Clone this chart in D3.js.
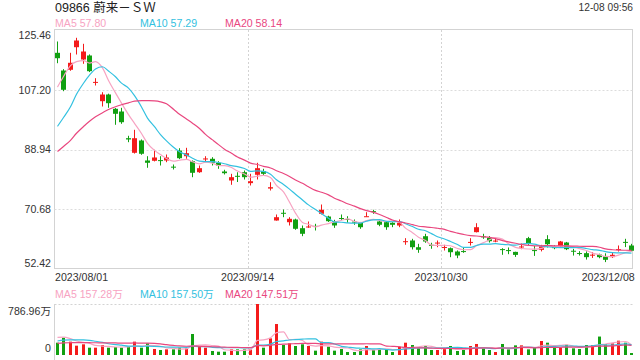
<!DOCTYPE html>
<html><head><meta charset="utf-8">
<script src="https://cdn.jsdelivr.net/npm/d3@7"></script>
<style>
body{margin:0;background:#fff}
svg{display:block}
text{font-family:"Liberation Sans",Arial,"Noto Sans CJK SC",sans-serif}
</style>
</head><body>
<svg id="c" width="640" height="360"></svg>
<script>
const title = "09866 蔚来－ＳＷ";
const stamp = "12-08 09:56";
const dates = [
"2023/08/01","2023/08/02","2023/08/03","2023/08/04","2023/08/07","2023/08/08","2023/08/09","2023/08/10","2023/08/11","2023/08/14",
"2023/08/15","2023/08/16","2023/08/17","2023/08/18","2023/08/21","2023/08/22","2023/08/23","2023/08/24","2023/08/25","2023/08/28",
"2023/08/29","2023/08/30","2023/08/31","2023/09/04","2023/09/05","2023/09/06","2023/09/07","2023/09/11","2023/09/12","2023/09/13",
"2023/09/14","2023/09/15","2023/09/18","2023/09/19","2023/09/20","2023/09/21","2023/09/22","2023/09/25","2023/09/26","2023/09/27",
"2023/09/28","2023/09/29","2023/10/03","2023/10/04","2023/10/05","2023/10/06","2023/10/09","2023/10/10","2023/10/11","2023/10/12",
"2023/10/13","2023/10/16","2023/10/17","2023/10/18","2023/10/19","2023/10/20","2023/10/24","2023/10/25","2023/10/26","2023/10/27",
"2023/10/30","2023/10/31","2023/11/01","2023/11/02","2023/11/03","2023/11/06","2023/11/07","2023/11/08","2023/11/09","2023/11/10",
"2023/11/13","2023/11/14","2023/11/15","2023/11/16","2023/11/17","2023/11/20","2023/11/21","2023/11/22","2023/11/23","2023/11/24",
"2023/11/27","2023/11/28","2023/11/29","2023/11/30","2023/12/01","2023/12/04","2023/12/05","2023/12/06","2023/12/07","2023/12/08"];

const open = [118.49,113.08,113.30,120.20,116.44,117.67,109.35,103.70,105.75,101.38,
100.55,92.40,87.93,91.69,85.58,85.49,85.70,85.58,83.70,88.63,
86.89,85.36,82.00,86.00,86.10,84.88,82.22,79.47,80.90,82.00,
78.66,81.21,82.31,77.00,67.24,69.60,66.72,67.55,64.89,65.20,
65.60,69.29,68.46,67.03,68.00,67.70,66.90,66.54,68.40,70.10,
66.95,66.72,66.54,65.71,60.70,61.13,59.08,62.44,59.80,60.30,
58.90,58.78,57.77,57.90,60.50,63.68,62.40,61.96,60.90,58.50,
58.20,57.65,59.10,61.84,58.20,58.27,61.53,59.10,59.30,60.52,
58.00,57.30,57.26,56.60,56.83,56.24,56.05,58.31,60.71,59.60];
const high = [121.95,113.50,118.49,123.08,121.24,118.00,110.73,106.45,106.00,101.60,
101.68,93.13,94.96,92.00,86.89,88.85,86.89,87.41,84.36,89.34,
89.46,85.60,84.05,86.89,86.59,85.36,82.74,81.51,81.98,82.52,
81.51,84.88,83.04,78.95,69.08,70.60,68.25,67.80,65.71,66.94,
66.23,72.13,68.70,67.46,69.08,68.55,67.55,66.80,69.78,70.51,
67.30,66.90,66.70,67.55,61.84,61.65,60.12,63.18,60.43,61.13,
59.82,59.00,58.10,59.08,61.84,66.42,63.18,62.50,62.14,58.78,
59.00,57.70,60.20,62.24,59.48,59.80,62.75,59.70,61.00,60.70,
58.57,57.87,57.80,57.56,57.10,57.21,57.61,59.61,61.65,60.11];
const low = [115.31,106.76,113.00,117.97,115.13,112.60,108.50,102.08,101.68,96.49,
96.79,91.17,87.70,87.32,83.35,85.30,84.05,85.06,82.83,86.00,
86.10,80.47,81.80,85.06,84.05,83.04,81.30,78.15,79.00,79.77,
77.94,79.77,81.00,76.41,67.20,68.25,65.71,64.40,62.45,65.00,
64.19,69.08,66.80,65.00,67.34,66.54,65.93,64.70,68.40,69.29,
65.50,64.40,65.20,65.20,59.82,58.38,57.37,60.43,58.60,59.08,
58.07,56.03,55.72,57.37,59.60,63.60,61.65,60.50,60.60,56.76,
56.95,56.12,58.47,59.80,56.43,57.80,59.00,58.47,59.00,58.20,
56.53,56.53,55.30,55.80,55.70,54.53,55.81,57.76,59.11,57.81];
const close = [116.84,107.19,115.44,122.25,118.89,112.87,109.60,105.75,103.09,99.85,
97.28,92.00,92.39,87.63,84.88,86.50,85.50,86.50,83.50,86.28,
87.81,81.82,83.23,86.20,84.88,84.05,81.70,80.48,80.60,80.48,
79.25,83.23,81.51,77.42,68.25,69.40,67.76,64.71,63.18,65.41,
65.40,70.51,67.03,65.72,67.90,67.50,66.80,65.19,68.55,69.90,
65.94,65.19,65.93,66.54,60.92,59.08,58.29,60.82,59.60,60.50,
59.15,57.55,56.55,57.75,60.70,65.19,62.20,60.92,61.10,58.30,
58.00,56.73,59.30,60.30,58.00,59.30,60.00,58.90,60.83,58.47,
57.80,57.20,56.04,56.80,56.04,55.23,56.76,58.51,60.51,58.00];
// volume in 万 shares
const volume = [190,267,206,144,165,113,113,154,113,123,
113,129,206,113,180,93,77,87,87,113,
103,324,129,113,62,51,51,87,87,87,
87,786.96,113,257,478,154,180,139,165,139,
67,206,129,67,93,46,46,87,139,77,
87,77,46,129,190,154,103,139,77,77,
103,139,62,77,139,170,103,77,46,170,
87,149,149,87,113,216,190,113,113,158.2,
103,93,154,154,284.6,165,180,221,190,30.4];
// the 19 sessions before the first candle, estimated from where the MA lines start
const priorClose = [76.5,78.0,79.2,77.8,80.5,82.0,81.3,83.5,82.6,85.2,80.2,82.5,84.0,85.5,88.0,91.0,98.7,116.2,117.3];
const priorVolume = [130,150,120,160,140,135,155,145,150,155,140,150,160,165,180,250,330,320,275];

const priceTicks = [125.46,107.20,88.94,70.68,52.42];
const dateTicks = ["2023/08/01","2023/09/14","2023/10/30","2023/12/08"];
const maPeriods = [5,10,20];
const maColors = ["#f7a3c2","#33c1e0","#e9477f"];
const UP = "#f41b1b", DOWN = "#11a011";

const svg = d3.select("#c");
const n = dates.length;
const x = d3.scaleBand().domain(dates).range([54, 634.7]).padding(0);
const cx = i => Math.floor(x(dates[i]) + x.bandwidth()/2) + 0.5;
const y = d3.scaleLinear().domain([52.42,125.46]).range([269,30]);
const yv = d3.scaleLinear().domain([0, d3.max(volume)]).range([355,304]);

function movingAvg(prior, vals, p){
  const all = prior.concat(vals), off = prior.length;
  return vals.map((_, i) => d3.mean(all.slice(off + i - p + 1, off + i + 1)));
}
const priceMA = maPeriods.map(p => movingAvg(priorClose, close, p));
const volMA = maPeriods.map(p => movingAvg(priorVolume, volume, p));

const L = 54.5, R = 632.5;
// frame & grid (price)
svg.append("rect").attr("x",L).attr("y",29.5).attr("width",R-L).attr("height",239)
  .attr("fill","none").attr("stroke","#d3d3d3");
priceTicks.slice(1,-1).forEach(t=>{
  const yy = Math.round(y(t)) + 0.5;
  svg.append("line").attr("x1",L).attr("x2",R).attr("y1",yy).attr("y2",yy)
    .attr("stroke","#dcdcdc").attr("stroke-dasharray","2,2");
});
// vertical dashed lines at middle date ticks
dateTicks.slice(1,-1).forEach(d=>{
  const xx = Math.round(x(d)) + 0.5;
  [[30,268.5],[304,360]].forEach(([a,b])=>{
    svg.append("line").attr("x1",xx).attr("x2",xx).attr("y1",a).attr("y2",b)
      .attr("stroke","#d3d3d3").attr("stroke-dasharray","2,2");
  });
});
// y labels
priceTicks.forEach((t,k)=>{
  let yy = y(t) + 3.8;
  if (k===0) yy = y(t) + 9;
  if (k===priceTicks.length-1) yy = y(t) - 2.5;
  svg.append("text").attr("x",51).attr("y",yy).attr("text-anchor","end")
    .attr("font-size","10.6px").attr("fill","#333").text(t.toFixed(2));
});
// x labels
dateTicks.forEach((d,k)=>{
  let xx = x(d), anchor = "middle";
  if (k===0){ xx = x.range()[0] + 1; anchor = "start"; }
  if (k===dateTicks.length-1){ xx = x.range()[1]; anchor = "end"; }
  svg.append("text").attr("x",xx).attr("y",280.5).attr("text-anchor",anchor)
    .attr("font-size","10.6px").attr("fill","#333").text(d);
});

// candles
const g = svg.append("g");
d3.range(n).forEach(i=>{
  const up = close[i] >= open[i];
  const col = up ? UP : DOWN;
  const xc = cx(i);
  g.append("line").attr("x1",xc).attr("x2",xc).attr("y1",y(high[i])).attr("y2",y(low[i]))
    .attr("stroke",col).attr("stroke-width",1);
  const top = y(Math.max(open[i],close[i])), bot = y(Math.min(open[i],close[i]));
  g.append("rect").attr("x",xc-2.5).attr("width",5)
    .attr("y",top).attr("height",Math.max(1,bot-top)).attr("fill",col);
});
// MA lines (price)
const lineP = d3.line().x((v,i)=>cx(i)).y(v=>y(v)).curve(d3.curveMonotoneX);
priceMA.forEach((arr,k)=>{
  svg.append("path").attr("d",lineP(arr)).attr("fill","none")
    .attr("stroke",maColors[k]).attr("stroke-width",1.2);
});

// header
svg.append("text").attr("x",55).attr("y",12).attr("font-size","12.5px").attr("fill","#222").text(title);
svg.append("text").attr("x",633).attr("y",10.7).attr("text-anchor","end").attr("font-size","10.2px").attr("fill","#333").text(stamp);
const legX = [55,140,225];
maPeriods.forEach((p,k)=>{
  svg.append("text").attr("x",legX[k]).attr("y",27.3).attr("font-size","10.6px")
    .attr("fill",maColors[k]).text("MA"+p+" "+priceMA[k][n-1].toFixed(2));
  svg.append("text").attr("x",legX[k]).attr("y",297.7).attr("font-size","10.6px")
    .attr("fill",maColors[k]).text("MA"+p+" "+volMA[k][n-1].toFixed(2)+"万");
});

// volume panel
svg.append("line").attr("x1",L).attr("x2",R).attr("y1",304.5).attr("y2",304.5)
  .attr("stroke","#d3d3d3").attr("stroke-dasharray","2,2");
svg.append("line").attr("x1",L).attr("x2",L).attr("y1",304).attr("y2",360).attr("stroke","#d3d3d3");
svg.append("text").attr("x",51).attr("y",315).attr("text-anchor","end").attr("font-size","10.6px")
  .attr("fill","#333").text(d3.max(volume).toFixed(2)+"万");
svg.append("text").attr("x",51).attr("y",351.7).attr("text-anchor","end").attr("font-size","10.6px")
  .attr("fill","#333").text("0");
d3.range(n).forEach(i=>{
  const col = close[i] >= open[i] ? UP : DOWN;
  svg.append("rect").attr("x",cx(i)-1.5).attr("width",3)
    .attr("y",yv(volume[i])).attr("height",yv(0)-yv(volume[i])).attr("fill",col);
});
const lineV = d3.line().x((v,i)=>cx(i)).y(v=>yv(v)).curve(d3.curveMonotoneX);
volMA.forEach((arr,k)=>{
  svg.append("path").attr("d",lineV(arr)).attr("fill","none")
    .attr("stroke",maColors[k]).attr("stroke-width",1.2);
});
</script>
</body></html>
